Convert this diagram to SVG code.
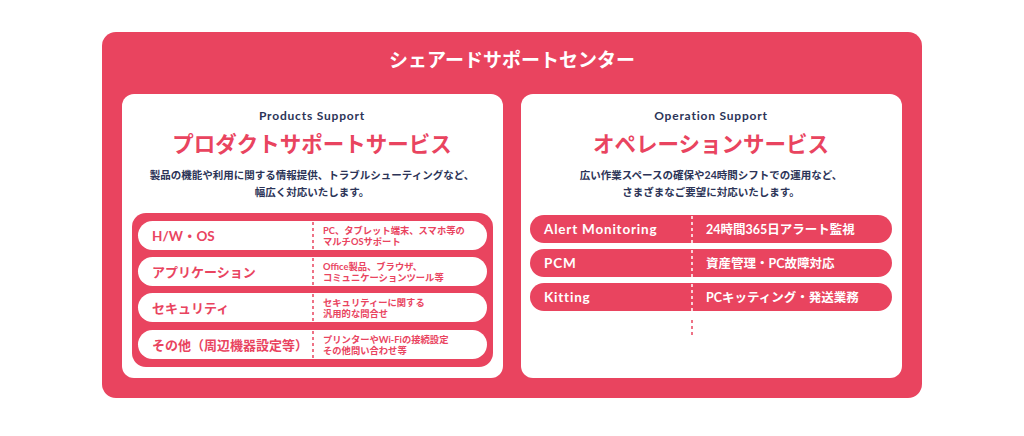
<svg xmlns="http://www.w3.org/2000/svg" width="1024" height="436" viewBox="0 0 1024 436">
<style>
.red{fill:#E9445F}
.card{fill:#FFFFFF}
.t{font-family:Lato,"Noto Sans CJK JP",sans-serif;font-weight:700}
.navy{fill:#2C3457}
.rt{fill:#E9445F}
.wt{fill:#FFFFFF}
.en{letter-spacing:0.8px}
.dashR{stroke:#E9445F;stroke-width:1.5;stroke-dasharray:3 3;fill:none}
.dashW{stroke:#FFFFFF;stroke-width:1.5;stroke-dasharray:3 3;fill:none}
</style>
<rect width="1024" height="436" fill="#FFFFFF"/>
<g id="center">
<rect class="red" x="102" y="32" width="820" height="366" rx="14"/>
<text class="t wt" x="512" y="67" font-size="19" text-anchor="middle">シェアードサポートセンター</text>
</g>
<g id="products">
<rect class="card" x="122" y="94" width="381" height="284" rx="12"/>
<text class="t navy en" x="312" y="120" font-size="12" text-anchor="middle">Products Support</text>
<text class="t rt" x="312" y="152" font-size="21.5" text-anchor="middle">プロダクトサポートサービス</text>
<text class="t navy" x="312" y="179" font-size="10.5" text-anchor="middle">製品の機能や利用に関する情報提供、トラブルシューティングなど、</text>
<text class="t navy" x="312" y="196" font-size="10.5" text-anchor="middle">幅広く対応いたします。</text>
<rect class="red" x="132" y="213" width="361" height="154" rx="14"/>
</g>
<g id="p-hwos">
<rect class="card" x="138" y="221" width="349" height="29" rx="14.5"/>
<text class="t rt" x="152" y="241" font-size="13.5">H/W・OS</text>
<text class="t rt" x="323" y="234" font-size="9.3">PC、タブレット端末、スマホ等の</text>
<text class="t rt" x="323" y="245" font-size="9.3">マルチOSサポート</text>
</g>
<g id="p-app">
<rect class="card" x="138" y="257" width="349" height="29" rx="14.5"/>
<text class="t rt" x="152" y="277" font-size="13">アプリケーション</text>
<text class="t rt" x="323" y="270" font-size="9.3">Office製品、ブラウザ、</text>
<text class="t rt" x="323" y="281" font-size="9.3">コミュニケーションツール等</text>
</g>
<g id="p-sec">
<rect class="card" x="138" y="293" width="349" height="29" rx="14.5"/>
<text class="t rt" x="152" y="313" font-size="13">セキュリティ</text>
<text class="t rt" x="323" y="306" font-size="9.3">セキュリティーに関する</text>
<text class="t rt" x="323" y="317" font-size="9.3">汎用的な問合せ</text>
</g>
<g id="p-other">
<rect class="card" x="138" y="330" width="349" height="29" rx="14.5"/>
<text class="t rt" x="152" y="350" font-size="13">その他（周辺機器設定等）</text>
<text class="t rt" x="323" y="343" font-size="9.3">プリンターやWi-Fiの接続設定</text>
<text class="t rt" x="323" y="354" font-size="9.3">その他問い合わせ等</text>
</g>
<g id="operation">
<rect class="card" x="521" y="94" width="381" height="284" rx="12"/>
<text class="t navy en" x="711" y="120" font-size="12" text-anchor="middle">Operation Support</text>
<text class="t rt" x="711" y="152" font-size="21.5" text-anchor="middle">オペレーションサービス</text>
<text class="t navy" x="711" y="179" font-size="10.5" text-anchor="middle">広い作業スペースの確保や24時間シフトでの運用など、</text>
<text class="t navy" x="711" y="196" font-size="10.5" text-anchor="middle">さまざまなご要望に対応いたします。</text>
</g>
<g id="o-alert">
<rect class="red" x="530" y="215" width="362" height="28" rx="14"/>
<text class="t wt en" x="544" y="234" font-size="13.5">Alert Monitoring</text>
<text class="t wt" x="706" y="234" font-size="12.5">24時間365日アラート監視</text>
</g>
<g id="o-pcm">
<rect class="red" x="530" y="249" width="362" height="28" rx="14"/>
<text class="t wt en" x="544" y="268" font-size="13.5">PCM</text>
<text class="t wt" x="706" y="268" font-size="12.5">資産管理・PC故障対応</text>
</g>
<g id="o-kit">
<rect class="red" x="530" y="283" width="362" height="28" rx="14"/>
<text class="t wt en" x="544" y="302" font-size="13.5">Kitting</text>
<text class="t wt" x="706" y="302" font-size="12.5">PCキッティング・発送業務</text>
</g>
<g id="connectors">
<line class="dashR" x1="313" y1="222" x2="313" y2="250"/>
<line class="dashR" x1="313" y1="258" x2="313" y2="286"/>
<line class="dashR" x1="313" y1="294" x2="313" y2="322"/>
<line class="dashR" x1="313" y1="331" x2="313" y2="359"/>
<line class="dashW" x1="692" y1="216" x2="692" y2="243"/>
<line class="dashW" x1="692" y1="250" x2="692" y2="277"/>
<line class="dashW" x1="692" y1="284" x2="692" y2="311"/>
<line class="dashR" x1="692" y1="320" x2="692" y2="336"/>
</g>
</svg>
